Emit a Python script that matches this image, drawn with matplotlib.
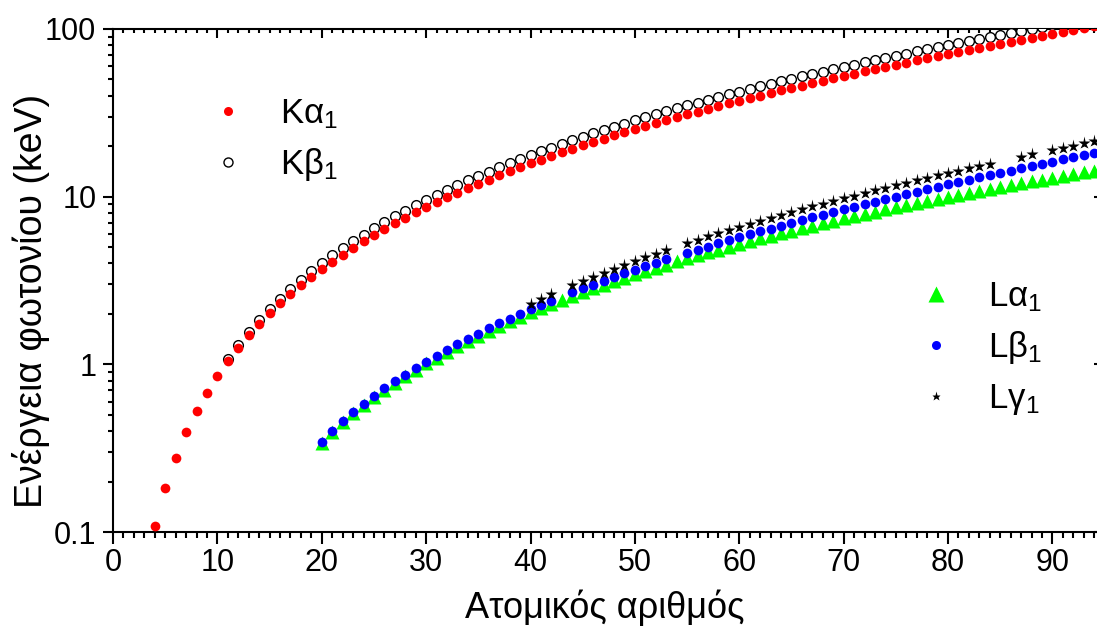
import numpy as np
import matplotlib
matplotlib.use("Agg")
import matplotlib.pyplot as plt
from matplotlib.lines import Line2D
from matplotlib.ticker import LogLocator, MultipleLocator, FixedFormatter, FixedLocator

plt.rcParams["font.family"] = ["Liberation Sans", "DejaVu Sans"]
plt.rcParams["mathtext.fontset"] = "custom"
plt.rcParams["mathtext.rm"] = "Liberation Sans"
plt.rcParams["mathtext.it"] = "Liberation Sans"
plt.rcParams["mathtext.default"] = "regular"

nan = np.nan

# atomic numbers of each series
z_ka1 = list(range(4, 95))
z_kb1 = list(range(11, 93))
z_la1 = list(range(20, 95))
z_lb1 = list(range(20, 95))
z_lg1 = list(range(40, 95))

# photon energies (keV)
ka1 = [0.1085, 0.1833, 0.2770, 0.3924, 0.5249, 0.6768, 0.8486, 1.0410, 1.2536, 1.4867,
       1.7400, 2.0137, 2.3078, 2.6224, 2.9577, 3.3138, 3.6917, 4.0906, 4.5108, 4.9522,
       5.4147, 5.8988, 6.4038, 6.9303, 7.4782, 8.0478, 8.6389, 9.2517, 9.8864, 10.5437,
       11.2224, 11.9242, 12.6490, 13.3953, 14.1650, 14.9584, 15.7751, 16.6151, 17.4793, 18.3671,
       19.2792, 20.2161, 21.1771, 22.1629, 23.1736, 24.2097, 25.2713, 26.3591, 27.4723, 28.6120,
       29.7790, 30.9728, 32.1936, 33.4418, 34.7197, 36.0263, 37.3610, 38.7247, 40.1181, 41.5422,
       42.9962, 44.4816, 45.9984, 47.5467, 49.1277, 50.7416, 52.3889, 54.0698, 55.7902, 57.5320,
       59.3182, 61.1403, 63.0005, 64.8956, 66.8320, 68.8037, 70.8190, 72.8715, 74.9694, 77.1079,
       79.2900, 81.5200, 83.7800, 86.1000, 88.4700, 90.8840, 93.3500, 95.8680, 98.4390, 101.0,
       103.7]

kb1 = [1.0711, 1.3022, 1.5575, 1.8359, 2.1391, 2.4640, 2.8156, 3.1905, 3.5896, 4.0127,
       4.4605, 4.9318, 5.4273, 5.9467, 6.4905, 7.0580, 7.6494, 8.2647, 8.9053, 9.5720,
       10.2642, 10.9821, 11.7262, 12.4959, 13.2914, 14.1120, 14.9613, 15.8357, 16.7378, 17.6678,
       18.6225, 19.6083, 20.6190, 21.6568, 22.7236, 23.8187, 24.9424, 26.0955, 27.2759, 28.4860,
       29.7256, 30.9957, 32.2947, 33.6240, 34.9869, 36.3782, 37.8012, 39.2576, 40.7484, 42.2715,
       43.8260, 45.4130, 47.0379, 48.6970, 50.3820, 52.1190, 53.8770, 55.6810, 57.5170, 59.3700,
       61.2830, 63.2340, 65.2230, 67.2443, 69.3100, 71.4130, 73.5608, 75.7480, 77.9840, 80.2530,
       82.5760, 84.9360, 87.3430, 89.8000, 92.3000, 94.8700, 97.4700, 100.13, 102.85, 105.61,
       108.43, 111.30]

la1 = [0.3413, 0.3954, 0.4522, 0.5113, 0.5728, 0.6374, 0.7050, 0.7762, 0.8515, 0.9297,
       1.0117, 1.0979, 1.1880, 1.2820, 1.3791, 1.4804, 1.5860, 1.6941, 1.8066, 1.9226,
       2.0424, 2.1659, 2.2932, 2.4240, 2.5586, 2.6967, 2.8386, 2.9843, 3.1337, 3.2869,
       3.4440, 3.6047, 3.7693, 3.9377, 4.1099, 4.2865, 4.4663, 4.6510, 4.8402, 5.0337,
       5.2304, 5.4325, 5.6361, 5.8457, 6.0572, 6.2728, 6.4952, 6.7198, 6.9487, 7.1799,
       7.4156, 7.6555, 7.8990, 8.1461, 8.3976, 8.6524, 8.9108, 9.1751, 9.4423, 9.7133,
       9.9888, 10.2685, 10.5515, 10.8388, 11.1308, 11.4268, 11.7270, 12.0313, 12.3397, 12.6520,
       12.9687, 13.2907, 13.6147, 13.9441, 14.2786]

lb1 = [0.3449, 0.3996, 0.4584, 0.5192, 0.5828, 0.6488, 0.7185, 0.7914, 0.8688, 0.9498,
       1.0347, 1.1248, 1.2185, 1.3170, 1.4192, 1.5259, 1.6366, 1.7522, 1.8717, 1.9958,
       2.1244, 2.2574, 2.3948, nan, 2.6832, 2.8344, 2.9902, 3.1509, 3.3166, 3.4872,
       3.6628, 3.8436, 4.0296, 4.2207, nan, 4.6198, 4.8275, 5.0421, 5.2622, 5.4889,
       5.7216, 5.9610, 6.2051, 6.4564, 6.7132, 6.9780, 7.2477, 7.5253, 7.8109, 8.1010,
       8.4018, 8.7090, 9.0227, 9.3431, 9.6724, 10.0100, 10.3553, 10.7083, 11.0707, 11.4423,
       11.8226, 12.2133, 12.6137, 13.0235, 13.4470, 13.8760, 14.3160, 14.7700, 15.2358, 15.7130,
       16.2022, 16.7020, 17.2200, 17.7502, 18.2937]

lg1 = [2.3027, 2.4618, 2.6235, nan, 2.9645, 3.1438, 3.3287, 3.5196, 3.7168, 3.9204,
       4.1311, 4.3477, 4.5709, 4.8009, nan, 5.2804, 5.5311, 5.7885, 6.0520, 6.3221,
       6.6021, 6.8920, 7.1789, 7.4803, 7.7858, 8.1023, 8.4188, 8.7477, 9.0876, 9.4256,
       9.7801, 10.1434, 10.5158, 10.8952, 11.2859, 11.6854, 12.0953, 12.5126, 12.9420, 13.3817,
       13.8301, 14.2915, 14.7644, 15.2477, 15.7400, nan, nan, 17.3040, 17.8481, nan,
       18.9825, 19.5700, 20.1671, 20.7840, 21.4173]

x_ticks = [0, 10, 20, 30, 40, 50, 60, 70, 80, 90]
y_ticks = [0.1, 1, 10, 100]
y_tick_labels = ["0.1", "1", "10", "100"]

fig = plt.figure(figsize=(10.97, 6.27), dpi=100)
W, H = 1097, 627
ax = fig.add_axes([113 / W, 1 - 532 / H, 1 - 113 / W, (532 - 29) / H])

ax.plot(z_kb1, kb1, ls="none", marker="o", ms=7, mfc="white", mec="black", mew=1.0, zorder=3)
ax.plot(z_ka1, ka1, ls="none", marker="o", ms=7, mfc="#ff0000", mec="none", zorder=4)
ax.plot(z_la1, la1, ls="none", marker="^", ms=10, mfc="#00ff00", mec="none", zorder=3)
ax.plot(z_lb1, lb1, ls="none", marker="o", ms=7, mfc="#0000ff", mec="none", zorder=4)
ax.plot(z_lg1, lg1, ls="none", marker="*", ms=9.5, mfc="black", mec="none", zorder=5)

ax.set_yscale("log")
ax.set_xlim(0, 94.27)
ax.set_ylim(0.1, 100)

ax.xaxis.set_major_locator(FixedLocator(x_ticks))
ax.xaxis.set_minor_locator(MultipleLocator(1))
ax.yaxis.set_major_locator(FixedLocator(y_ticks))
ax.yaxis.set_major_formatter(FixedFormatter(y_tick_labels))
ax.yaxis.set_minor_locator(LogLocator(base=10, subs=np.arange(2, 10)))
ax.yaxis.set_minor_formatter(FixedFormatter([]))

for s in ["left", "bottom", "top"]:
    ax.spines[s].set_linewidth(1.5)
ax.spines["right"].set_visible(False)

ax.tick_params(axis="both", which="major", labelsize=22, width=1.5)
ax.tick_params(axis="both", which="minor", width=1.5)
ax.tick_params(axis="x", which="major", direction="out", length=8.5, pad=3)
ax.tick_params(axis="x", which="minor", direction="out", length=4)
ax.tick_params(axis="y", which="major", direction="out", length=7.5, pad=4.5)
ax.tick_params(axis="y", which="minor", direction="out", length=3.8)
ax.tick_params(axis="x", which="both", top=True)
ax.tick_params(axis="y", which="major", right=True)

# top/right ticks point inwards, only left/bottom are outward
for t in ax.xaxis.get_major_ticks():
    t.tick2line.set_marker(3)
    t.tick2line.set_markersize(6.5)
for t in ax.xaxis.get_minor_ticks():
    t.tick2line.set_marker(3)
    t.tick2line.set_markersize(3)
for t in ax.yaxis.get_major_ticks():
    t.tick2line.set_marker(0)
    t.tick2line.set_markersize(2)

ax.set_xlabel("Ατομικός αριθμός", fontsize=26)
ax.set_ylabel("Ενέργεια φωτονίου (keV)", fontsize=27)
ax.xaxis.set_label_coords(0.5, -0.115)
ax.yaxis.set_label_coords(-0.064, 0.46)

leg_style = dict(frameon=False, fontsize=25, borderpad=0, borderaxespad=0,
                 handlelength=1.0, handletextpad=1.0, labelspacing=0.45, loc="upper left")

k_handles = [
    Line2D([], [], ls="none", marker="o", ms=6.5, mfc="#ff0000", mec="none"),
    Line2D([], [], ls="none", marker="o", ms=6.5, mfc="white", mec="black", mew=1.0),
]
leg1 = ax.legend(k_handles, ["Kα$_1$", "Kβ$_1$"], bbox_to_anchor=(211 / W, 1 - 97 / H),
                 bbox_transform=fig.transFigure, **leg_style)
ax.add_artist(leg1)

l_handles = [
    Line2D([], [], ls="none", marker="^", ms=11, mfc="#00ff00", mec="none"),
    Line2D([], [], ls="none", marker="o", ms=6.5, mfc="#0000ff", mec="none"),
    Line2D([], [], ls="none", marker="*", ms=6.5, mfc="black", mec="none"),
]
ax.legend(l_handles, ["Lα$_1$", "Lβ$_1$", "Lγ$_1$"], bbox_to_anchor=(919 / W, 1 - 280 / H),
          bbox_transform=fig.transFigure, **leg_style)

fig.savefig("out.png", dpi=100)
